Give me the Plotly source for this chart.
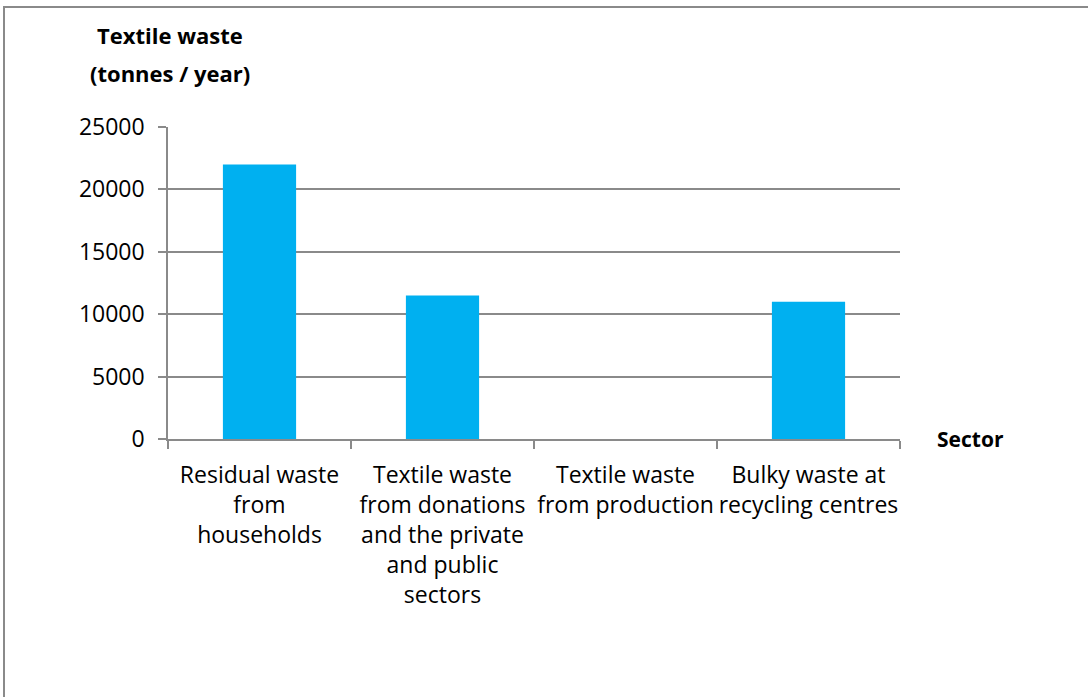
import plotly.graph_objects as go

categories = [
    "Residual waste<br>from<br>households",
    "Textile waste<br>from donations<br>and the private<br>and public<br>sectors",
    "Textile waste<br>from production",
    "Bulky waste at<br>recycling centres",
]
values = [22000, 11500, 0, 11000]
y_ticks = [0, 5000, 10000, 15000, 20000, 25000]
y_ticktext = ["0", "5000", "10000", "15000", "20000", "25000"]

FONT = "'Open Sans', Lato, sans-serif"
GREY = "#8a8a8a"

fig = go.Figure(go.Bar(x=categories, y=values, marker=dict(color="#00B0F0", line=dict(width=0)), width=0.4))

fig.update_layout(
    width=1088, height=697,
    margin=dict(l=168, r=188, t=127, b=258),
    paper_bgcolor="white", plot_bgcolor="white",
    font=dict(family=FONT, size=23, color="black"),
    showlegend=False,
)
fig.update_xaxes(
    type="category", tickson="boundaries", ticks="outside", ticklen=8, tickcolor=GREY, tickwidth=1.5,
    showline=True, linecolor=GREY, linewidth=1.5, showgrid=False,
    tickfont=dict(size=23, family=FONT), range=[-0.5, 3.5], tickangle=0, ticklabelstandoff=15,
)
fig.update_yaxes(
    range=[0, 25000], tickvals=y_ticks, ticktext=y_ticktext, ticks="outside", ticklen=8, tickcolor=GREY, tickwidth=1.5,
    showline=True, linecolor=GREY, linewidth=1.5, gridcolor=GREY, gridwidth=1.5,
    tickfont=dict(size=23, family=FONT), ticklabelstandoff=9, zeroline=False,
)

fig.add_annotation(text="<b>Textile waste</b>", xref="paper", yref="paper", x=(170 - 168) / 732, y=(439 - 35) / 312,
                   showarrow=False, font=dict(size=22, family=FONT), xanchor="center", yanchor="middle")
fig.add_annotation(text="<b>(tonnes / year)</b>", xref="paper", yref="paper", x=(170 - 168) / 732, y=(439 - 73) / 312,
                   showarrow=False, font=dict(size=22, family=FONT), xanchor="center", yanchor="middle")
fig.add_annotation(text="<b>Sector</b>", xref="paper", yref="paper", x=(970 - 168) / 732, y=0,
                   showarrow=False, font=dict(size=21, family=FONT), xanchor="center", yanchor="middle")

fig.add_shape(type="rect", xref="paper", yref="paper",
              x0=(4 - 168) / 732, x1=1.6, y0=-1.2, y1=(439 - 7) / 312,
              line=dict(color=GREY, width=2), fillcolor="rgba(0,0,0,0)", layer="below")

fig.write_html("out.html", config={"displayModeBar": False},
               post_script="document.body.style.margin='0';document.body.style.overflow='hidden';")
